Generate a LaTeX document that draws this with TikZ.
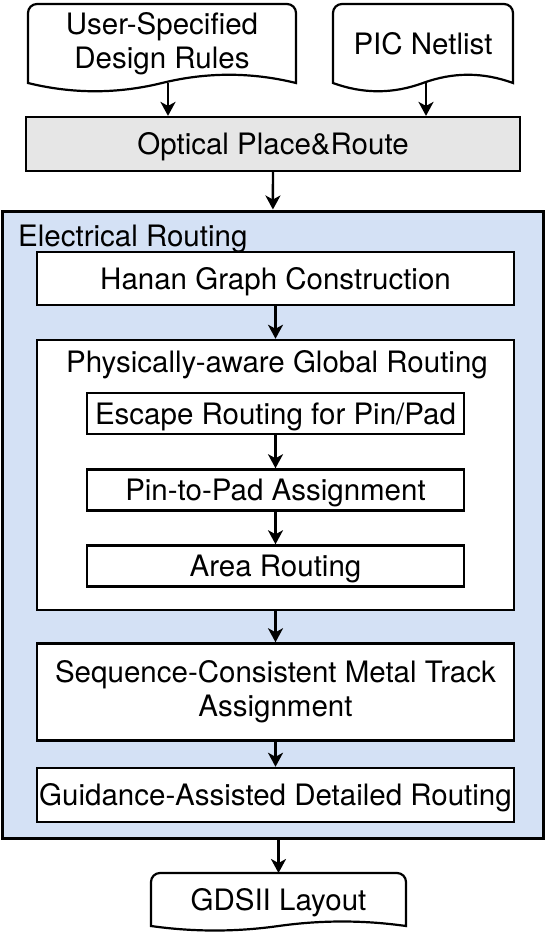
\documentclass[tikz,border=0pt]{standalone}
\usepackage{fontspec}
\setmainfont{TeX Gyre Heros}
\usetikzlibrary{positioning, arrows.meta, calc}

\definecolor{routeblue}{HTML}{D4E1F5}
\definecolor{placegray}{HTML}{E6E6E6}

% document outline round a node: #1 node, #2 depth of the wave
\newcommand{\docwave}[2]{%
  \draw[line width=2.2pt] (#1.south east) -- ([yshift=-9pt]#1.north east)
    arc[start angle=0, end angle=90, radius=9pt] -- ([xshift=9pt]#1.north west)
    arc[start angle=90, end angle=180, radius=9pt] -- (#1.south west)
    .. controls ($(#1.south west)!1/3!(#1.south)+(0,#2)$) and ($(#1.south west)!2/3!(#1.south)+(0,#2)$) .. (#1.south)
    .. controls ($(#1.south)!1/3!(#1.south east)-(0,#2)$) and ($(#1.south)!2/3!(#1.south east)-(0,#2)$) .. (#1.south east) -- cycle;}

\begin{document}
\begin{tikzpicture}[
    x=1pt, y=-1pt,
    font=\fontsize{29.5}{34}\selectfont,
    stepbox/.style={rectangle, draw, line width=2.5pt, fill=white, minimum width=477pt, inner sep=0pt, align=center},
    onerow/.style={text height=21pt, text depth=0pt},
    innerbox/.style={stepbox, onerow, minimum width=377pt, minimum height=41pt},
    docnode/.style={rectangle, inner sep=0pt, outer sep=0pt, align=center},
    flow/.style={-{Stealth[length=14pt, width=15pt, inset=4pt]}, line width=2.4pt}
]
\useasboundingbox (0,0) rectangle (548,940);

\node[docnode, minimum width=268pt, minimum height=79pt] (rules) at (162,43.5) {User-Specified\\Design Rules};
\node[docnode, onerow, minimum width=180pt, minimum height=79pt] (netlist) at (423,43.5) {PIC Netlist};
\docwave{rules}{11}
\docwave{netlist}{11}

\node[stepbox, onerow, fill=placegray, line width=2.2pt, minimum width=494pt, minimum height=54pt] (optical) at (273,144) {Optical Place\&Route};

\node[rectangle, draw, line width=3pt, fill=routeblue, minimum width=541pt, minimum height=627pt] (elec) at (272.5,524.5) {};
\node[anchor=west, inner sep=0pt, onerow] (elabel) at (18,236) {Electrical Routing};

\node[stepbox, onerow, minimum height=53pt] (hanan) at (275.5,278.5) {Hanan Graph Construction};
\node[stepbox, minimum height=270pt] (phys) at (275.5,475) {};
\node[onerow] (plabel) at (277,362) {Physically-aware Global Routing};
\node[innerbox] (escape) at (275.5,413.5) {Escape Routing for Pin/Pad};
\node[innerbox] (pin2pad) at (275.5,490) {Pin-to-Pad Assignment};
\node[innerbox] (area) at (275.5,566) {Area Routing};
\node[stepbox, minimum height=97pt] (track) at (275.5,692) {Sequence-Consistent Metal Track\\Assignment};
\node[stepbox, onerow, minimum height=54pt] (detail) at (275.5,795) {Guidance-Assisted Detailed Routing};

\node[docnode, onerow, minimum width=255pt, minimum height=53pt] (gds) at (278.5,899.5) {GDSII Layout};
\docwave{gds}{6}

\coordinate (rulesout) at ([xshift=6pt]rules.south);
\coordinate (netout) at ([xshift=3pt]netlist.south);
\draw[flow] (rulesout) -- (rulesout |- optical.north);
\draw[flow] (netout) -- (netout |- optical.north);
\draw[flow] (optical) -- (elec);
\draw[flow] (hanan) -- (phys);
\draw[flow] (escape) -- (pin2pad);
\draw[flow] (pin2pad) -- (area);
\draw[flow] (phys) -- (track);
\draw[flow] (track) -- (detail);
\draw[flow] (elec.south -| gds.north) -- (gds.north);

\end{tikzpicture}
\end{document}
